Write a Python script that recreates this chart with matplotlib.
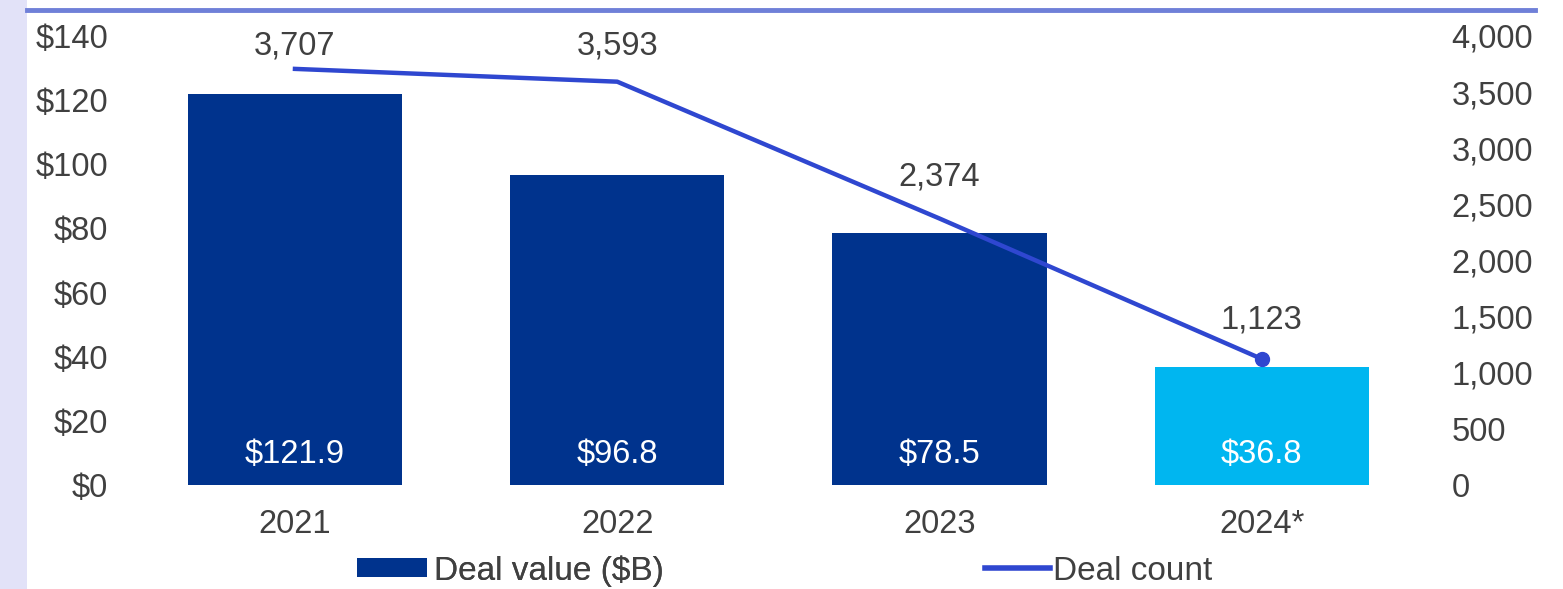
import matplotlib
matplotlib.use("Agg")
import matplotlib.pyplot as plt
from matplotlib.lines import Line2D
from matplotlib.patches import Rectangle

years = ["2021", "2022", "2023", "2024*"]
deal_value = [121.9, 96.8, 78.5, 36.8]
deal_count = [3707, 3593, 2374, 1123]
value_labels = ["$121.9", "$96.8", "$78.5", "$36.8"]
count_labels = ["3,707", "3,593", "2,374", "1,123"]
left_ticks = [0, 20, 40, 60, 80, 100, 120, 140]
left_tick_labels = ["$0", "$20", "$40", "$60", "$80", "$100", "$120", "$140"]
right_ticks = [0, 500, 1000, 1500, 2000, 2500, 3000, 3500, 4000]
right_tick_labels = ["0", "500", "1,000", "1,500", "2,000", "2,500", "3,000", "3,500", "4,000"]

plt.rcParams['font.family'] = ['Liberation Sans', 'DejaVu Sans']
TXT = "#404040"
NAVY = "#00338D"
CYAN = "#00B6F0"
LINE = "#2F47D0"
FS = 23.5
LFS = 24

fig = plt.figure(figsize=(15.63, 5.89), dpi=100)
fig.patch.set_facecolor("white")
# lavender strip on the left and top rule
fig.add_artist(Rectangle((0, 0), 27/1563, 1, transform=fig.transFigure,
                         facecolor="#E2E2F8", edgecolor="none", zorder=0))
fig.add_artist(Line2D([27/1563, 1535/1563], [1-10/589, 1-10/589], transform=fig.transFigure,
                      color="#6F80D8", linewidth=3.5))

ax = fig.add_axes([0.0815, 1-485/589, 0.833, 449/589])
x = list(range(len(years)))
colors = [NAVY, NAVY, NAVY, CYAN]
bars = ax.bar(x, deal_value, width=0.665, color=colors, zorder=2)
ax.set_xlim(-0.52, 3.52)
ax.set_ylim(0, 140)
ax.set_yticks(left_ticks)
ax.set_yticklabels(left_tick_labels)
ax.set_xticks(x)
ax.set_xticklabels(years)
ax.tick_params(axis='y', length=0, pad=14, labelsize=FS, labelcolor=TXT)
ax.tick_params(axis='x', length=0, pad=17, labelsize=FS, labelcolor=TXT)
for s in ax.spines.values():
    s.set_visible(False)

for xi, lab in zip(x, value_labels):
    ax.annotate(lab, (xi, 0), xytext=(0, 22), textcoords="offset pixels",
                ha="center", va="baseline", color="white", fontsize=FS, zorder=4)

ax2 = ax.twinx()
ax2.set_ylim(0, 4000)
ax2.set_yticks(right_ticks)
ax2.set_yticklabels(right_tick_labels)
ax2.tick_params(axis='y', length=0, pad=16, labelsize=FS, labelcolor=TXT)
for s in ax2.spines.values():
    s.set_visible(False)
line, = ax2.plot(x, deal_count, color=LINE, linewidth=3.2, zorder=3)
ax2.plot([x[-1]], [deal_count[-1]], marker="o", color=LINE, markersize=10, zorder=3)

offsets = [14, 27, 33, 30]
for xi, c, lab, off in zip(x, deal_count, count_labels, offsets):
    ax2.annotate(lab, (xi, c), xytext=(0, off), textcoords="offset pixels",
                 ha="center", va="baseline", color=TXT, fontsize=FS)

leg1 = fig.legend([bars[0]], ["Deal value ($B)"], loc="center left",
                  bbox_to_anchor=(357/1563, 1-571/589), frameon=False,
                  fontsize=LFS, handlelength=2.1, handleheight=0.5, handletextpad=0.2,
                  borderpad=0, borderaxespad=0, labelcolor=TXT)
leg2 = fig.legend([Line2D([0], [0], color=LINE, linewidth=4)], ["Deal count"], loc="center left",
                  bbox_to_anchor=(985/1563, 1-571/589), frameon=False,
                  fontsize=LFS, handlelength=1.95, handletextpad=0.1,
                  borderpad=0, borderaxespad=0, labelcolor=TXT)
fig.add_artist(leg1)

fig.savefig("out.png", dpi=100, facecolor="white")
